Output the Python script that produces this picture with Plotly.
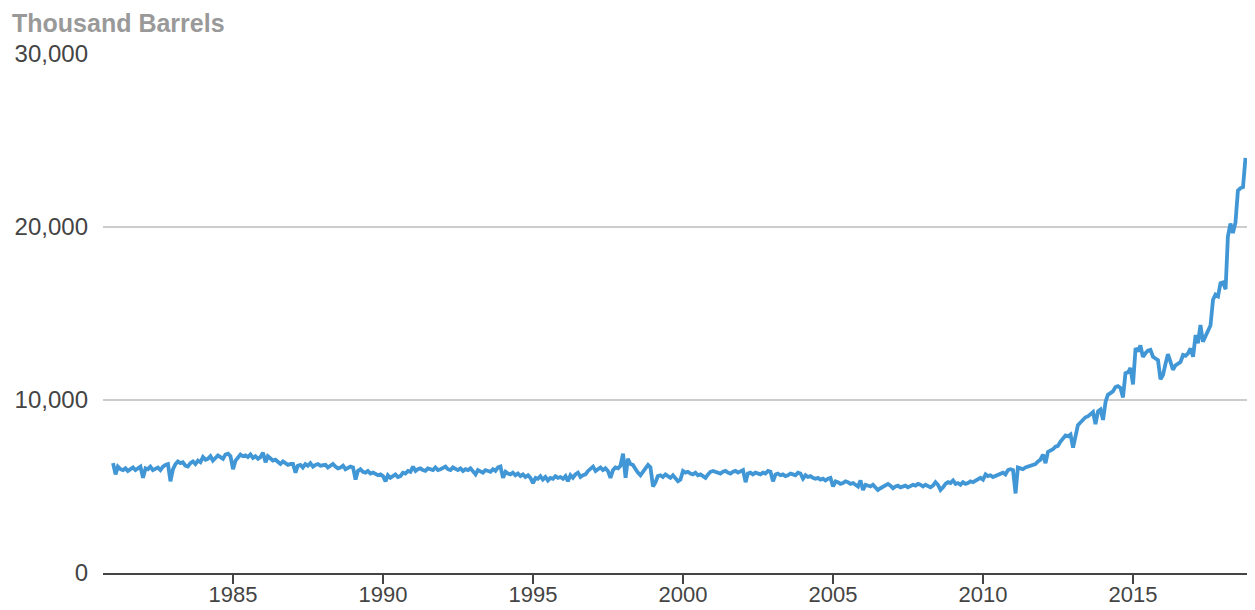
import plotly.graph_objects as go
import pandas as pd

# Monthly values, thousand barrels (Jan 1981 .. Oct 2018)
values_1980s = [
    6350, 5700, 6150, 6000, 5950, 6050, 5900, 6000, 6100, 5950, 6050, 6150,  # 1981
    5500, 6050, 6000, 6150, 5950, 6050, 6100, 5950, 6150, 6250, 6300, 5300,  # 1982
    6000, 6300, 6450, 6350, 6400, 6200, 6150, 6350, 6450, 6300, 6500, 6400,  # 1983
    6700, 6550, 6600, 6750, 6500, 6650, 6800, 6700, 6600, 6850, 6900, 6750,  # 1984
    6000, 6500, 6650, 6850, 6750, 6800, 6700, 6850, 6650, 6750, 6600, 6700,  # 1985
    6950, 6400, 6750, 6600, 6500, 6550, 6400, 6300, 6450, 6350, 6250, 6300,  # 1986
    6300, 5800, 6200, 6250, 6100, 6300, 6200, 6350, 6150, 6250, 6300, 6200,  # 1987
    6200, 6250, 6100, 6200, 6300, 6150, 6050, 6100, 6200, 6000, 6100, 6150,  # 1988
    6100, 5400, 5900, 6000, 5850, 5800, 5900, 5750, 5800, 5700, 5650, 5700,  # 1989
]
values_1990s = [
    5600, 5300, 5650, 5500, 5600, 5700, 5550, 5600, 5800, 5750, 5900, 5850,  # 1990
    6150, 5900, 6000, 6050, 5950, 5900, 6050, 6000, 5950, 6100, 5950, 6000,  # 1991
    6050, 6150, 6000, 5950, 6100, 6000, 5950, 6050, 5900, 6000, 5950, 6050,  # 1992
    5900, 5700, 5950, 5850, 5800, 5950, 5900, 5850, 6000, 5900, 6100, 6150,  # 1993
    5500, 5850, 5750, 5700, 5800, 5650, 5750, 5600, 5700, 5550, 5650, 5500,  # 1994
    5200, 5500, 5450, 5600, 5400, 5550, 5350, 5500, 5450, 5600, 5500, 5550,  # 1995
    5450, 5600, 5300, 5650, 5500, 5700, 5800, 5550, 5650, 5700, 5900, 6000,  # 1996
    6150, 5900, 6000, 6100, 5950, 6050, 5900, 5500, 5950, 6100, 6050, 6200,  # 1997
    6900, 5500, 6600, 6300, 6250, 6000, 5800, 5650, 5900, 6050, 6250, 6100,  # 1998
    5000, 5250, 5600, 5650, 5550, 5700, 5600, 5500, 5650, 5450, 5300, 5400,  # 1999
]
values_2000s = [
    5900, 5800, 5850, 5750, 5700, 5800, 5650, 5700, 5600, 5500, 5700, 5850,  # 2000
    5900, 5850, 5800, 5750, 5850, 5900, 5800, 5750, 5850, 5900, 5800, 5900,  # 2001
    5950, 5250, 5750, 5800, 5700, 5800, 5750, 5700, 5800, 5750, 5900, 5850,  # 2002
    5300, 5700, 5750, 5650, 5700, 5600, 5650, 5750, 5700, 5650, 5800, 5750,  # 2003
    5450, 5650, 5550, 5600, 5500, 5450, 5500, 5400, 5450, 5350, 5450, 5500,  # 2004
    5000, 5300, 5250, 5150, 5200, 5300, 5250, 5150, 5200, 5100, 5000, 5350,  # 2005
    4800, 5100, 5050, 5000, 5100, 4950, 4800, 4900, 5000, 5100, 5150, 5050,  # 2006
    4900, 5000, 5050, 4950, 5000, 5050, 4950, 5000, 5100, 5050, 5150, 5100,  # 2007
    5000, 5100, 5050, 4950, 5050, 5250, 5100, 4800, 4950, 5150, 5250, 5200,  # 2008
    5350, 5150, 5200, 5100, 5250, 5150, 5200, 5300, 5250, 5350, 5450, 5500,  # 2009
]
values_2010s = [
    5400, 5700, 5600, 5650, 5550, 5600, 5700, 5750, 5800, 5700, 5950, 6000,  # 2010
    5950, 4600, 6100, 6050, 6000, 6100, 6150, 6200, 6250, 6300, 6450, 6550,  # 2011
    6850, 6350, 7000, 7050, 7150, 7300, 7350, 7600, 7800, 7950, 7900, 8000,  # 2012
    7250, 8100, 8550, 8700, 8850, 9000, 9050, 9200, 9300, 8600, 9350, 9450,  # 2013
    8850, 9900, 10300, 10400, 10500, 10750, 10800, 10700, 10150, 11550, 11600, 11850,  # 2014
    10900, 13000, 12800, 13150, 12500, 12700, 12850, 12900, 12500, 12400, 12300, 11200,  # 2015
    11450, 12100, 12650, 12200, 11750, 12000, 12100, 12200, 12600, 12550, 12700, 12980,  # 2016
    12500, 13760, 13280, 14340, 13370, 13700, 14050, 14300, 15800, 16100, 16000, 16750,  # 2017
    16800, 16400, 19450, 20200, 19650, 20250, 22100, 22250, 22300, 24000,  # 2018
]

values = values_1980s + values_1990s + values_2000s + values_2010s
dates = pd.date_range("1981-01-01", periods=len(values), freq="MS")

y_ticks = [0, 10000, 20000, 30000]
y_tick_labels = ["0", "10,000", "20,000", "30,000"]

FONT = "Liberation Sans, Arial, Helvetica, sans-serif"

# The page body has an 8px default margin, so the figure is sized to fit the window.
W, H = 1247, 602

fig = go.Figure()
fig.add_trace(go.Scatter(
    x=dates, y=values, mode="lines",
    line=dict(color="#4197d6", width=3.8),
    hoverinfo="skip", cliponaxis=False,
))

fig.update_layout(
    width=W, height=H,
    margin=dict(l=95, r=0, t=46, b=37, autoexpand=False),
    paper_bgcolor="white", plot_bgcolor="white",
    showlegend=False,
    font=dict(family=FONT, size=22, color="#444444"),
    title=dict(
        text="<b>Thousand Barrels</b>",
        font=dict(family=FONT, size=25, color="#999999"),
        xref="container", yref="container",
        x=4 / W, xanchor="left",
        y=1 - 6 / H, yanchor="top",
        pad=dict(t=0, b=0, l=0, r=0),
    ),
    xaxis=dict(
        type="date",
        range=["1980-09-01", "2019-01-25"],
        tick0="1985-01-01", dtick="M60", tickformat="%Y",
        showgrid=False, zeroline=False,
        showline=True, linecolor="#444444", linewidth=2,
        ticks="outside", ticklen=9, tickwidth=2, tickcolor="#444444",
        ticklabelstandoff=-8,
        tickfont=dict(family=FONT, size=22, color="#444444"),
        automargin=False, fixedrange=True,
    ),
    yaxis=dict(
        range=[0, 30000],
        tickvals=y_ticks, ticktext=y_tick_labels,
        showgrid=True, gridcolor="#cccccc", gridwidth=2,
        zeroline=False, showline=False,
        ticks="", ticklabelstandoff=14,
        tickfont=dict(family=FONT, size=24, color="#444444"),
        automargin=False, fixedrange=True,
    ),
)

fig.write_html("out.html")
